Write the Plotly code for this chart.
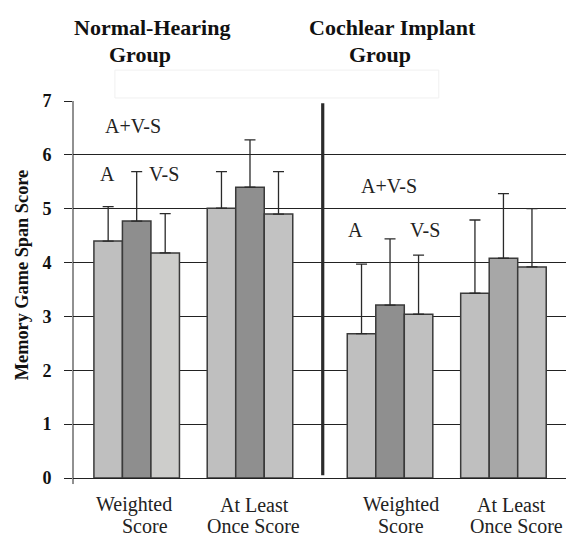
import plotly.graph_objects as go

# ---------------- data ----------------
groups = ["Normal-Hearing", "Cochlear Implant"]
categories = ["NH Weighted", "NH At Least Once", "CI Weighted", "CI At Least Once"]
cat_line1 = ["Weighted", "At Least", "Weighted", "At Least"]
cat_line2 = ["Score", "Once Score", "Score", "Once Score"]
conditions = ["A", "A+V-S", "V-S"]

mean_A = [4.40, 5.01, 2.68, 3.43]
mean_AVS = [4.77, 5.40, 3.21, 4.08]
mean_VS = [4.18, 4.90, 3.04, 3.92]

sd_A = [0.64, 0.68, 1.29, 1.36]
sd_AVS = [0.92, 0.88, 1.23, 1.20]
sd_VS = [0.73, 0.79, 1.10, 1.08]

y_ticks = [0, 1, 2, 3, 4, 5, 6, 7]

# ---------------- layout / style ----------------
xpos = [0, 1, 2.236, 3.237]          # category positions on the axis
sep_x = 1.642                         # separator between the two groups
colors_A = ["#bfbfbf", "#bfbfbf", "#bfbfbf", "#bfbfbf"]
colors_AVS = ["#8e8e8e", "#8f8f8f", "#8f8f8f", "#a7a7a7"]
colors_VS = ["#cdcdcb", "#c2c2c2", "#c0c0c0", "#c0c0c0"]
SERIF = "Liberation Serif, Times New Roman, serif"

fig = go.Figure()
for name, means, sds, cols in [
    ("A", mean_A, sd_A, colors_A),
    ("A+V-S", mean_AVS, sd_AVS, colors_AVS),
    ("V-S", mean_VS, sd_VS, colors_VS),
]:
    fig.add_trace(go.Bar(
        x=xpos, y=means, name=name,
        marker=dict(color=cols, line=dict(color="#3a3a3a", width=1.5)),
        error_y=dict(type="data", array=sds, arrayminus=[0] * len(sds),
                     symmetric=False, color="#2a2a2a", thickness=1.3, width=5.5),
        showlegend=False,
    ))

fig.update_layout(
    width=566, height=535,
    margin=dict(l=73, r=0, t=101, b=57.3),
    paper_bgcolor="white", plot_bgcolor="white",
    barmode="group", bargap=0.245, bargroupgap=0,
    font=dict(family=SERIF, color="#111"),
    xaxis=dict(range=[-0.562, 3.789], showticklabels=False, ticks="",
               showgrid=False, zeroline=False, showline=False),
    yaxis=dict(range=[0, 7], tickvals=y_ticks, ticks="outside", ticklen=8,
               tickcolor="#222", tickwidth=1, ticklabelstandoff=9,
               showgrid=True, gridcolor="#222", gridwidth=1,
               zeroline=True, zerolinecolor="#222", zerolinewidth=1,
               showline=False,
               tickfont=dict(family=SERIF, size=18, color="#111", weight="bold")),
)

# y-axis line (extends slightly below zero like the original)
fig.add_shape(type="line", xref="paper", yref="paper", x0=0, x1=0, y0=-0.016, y1=1,
              line=dict(color="#222", width=1))
# thick separator between groups
fig.add_shape(type="line", xref="x", yref="y", x0=sep_x, x1=sep_x, y0=0.05, y1=6.96,
              line=dict(color="#2b2b2b", width=3.2))
# faint box behind group titles
fig.add_shape(type="rect", xref="paper", yref="paper", x0=0.085, x1=0.742, y0=1.008, y1=1.082,
              line=dict(color="#f0f0f0", width=1), fillcolor="white", layer="below")

# group titles
title_pos = [(0.160, 0.136), (0.648, 0.622)]
for g, (xa, xb) in zip(groups, title_pos):
    fig.add_annotation(text="<b>%s</b>" % g, xref="paper", yref="paper", x=xa, y=1.196,
                       showarrow=False, xanchor="center", yanchor="middle",
                       font=dict(family=SERIF, size=22, color="#111"))
    fig.add_annotation(text="<b>Group</b>", xref="paper", yref="paper", x=xb, y=1.124,
                       showarrow=False, xanchor="center", yanchor="middle",
                       font=dict(family=SERIF, size=22, color="#111"))

# category labels
l1_x = [-0.024, 1.044, 2.333, 3.31]
l2_x = [0.073, 1.035, 2.337, 3.354]
for t1, t2, a, b in zip(cat_line1, cat_line2, l1_x, l2_x):
    fig.add_annotation(text=t1, xref="x", yref="paper", x=a, y=-0.0715, showarrow=False,
                       xanchor="center", yanchor="middle",
                       font=dict(family=SERIF, size=20, color="#222"))
    fig.add_annotation(text=t2, xref="x", yref="paper", x=b, y=-0.128, showarrow=False,
                       xanchor="center", yanchor="middle",
                       font=dict(family=SERIF, size=20, color="#222"))

# condition labels
cond_labels = [
    ("A+V-S", -0.033, 6.54), ("A", -0.258, 5.645), ("V-S", 0.237, 5.645),
    ("A+V-S", 2.231, 5.42), ("A", 1.927, 4.60), ("V-S", 2.545, 4.60),
]
for t, x, y in cond_labels:
    fig.add_annotation(text=t, xref="x", yref="y", x=x, y=y, showarrow=False,
                       xanchor="center", yanchor="middle",
                       font=dict(family=SERIF, size=20, color="#222"))

# y-axis title
fig.add_annotation(text="<b>Memory Game Span Score</b>", xref="paper", yref="paper",
                   x=-0.1034, y=0.538, textangle=-90, showarrow=False,
                   xanchor="center", yanchor="middle",
                   font=dict(family=SERIF, size=18.3, color="#111"))

fig.write_html(
    "out.html",
    config={"displayModeBar": False},
    post_script="document.body.style.margin='0px';document.body.style.overflow='hidden';",
)
